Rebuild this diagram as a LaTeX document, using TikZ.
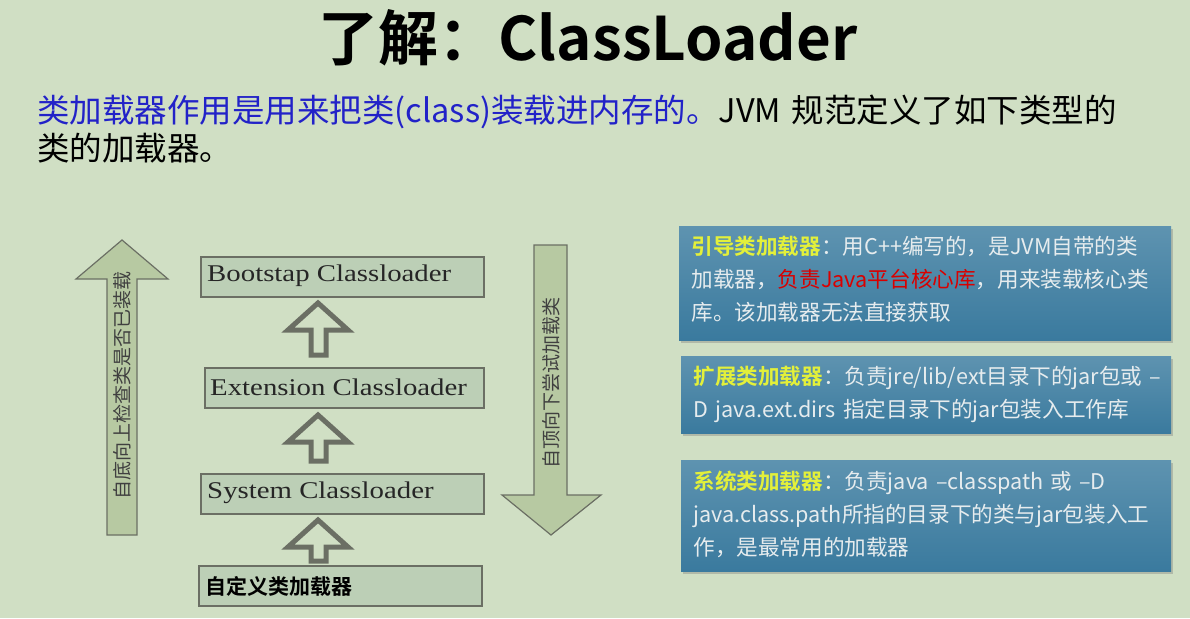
\documentclass[tikz,border=0pt]{standalone}
\usepackage{fontspec}
\setmainfont{Liberation Serif}
\newfontfamily\cjk{Noto Sans CJK SC}
\newfontfamily\cjkb{Noto Sans CJK SC Bold}
\XeTeXlinebreaklocale "zh"
\XeTeXlinebreakskip=0pt plus 1pt
\usetikzlibrary{shadows}
\definecolor{bg}{HTML}{D0DFC4}
\definecolor{lbox}{HTML}{BCCFB6}
\definecolor{bigar}{HTML}{B7C9A2}
\definecolor{dgray}{HTML}{6B6F64}
\definecolor{btop}{HTML}{5E93B0}
\definecolor{bbot}{HTML}{3A7A9E}
\definecolor{ytxt}{HTML}{E3F03A}
\definecolor{wtxt}{HTML}{E6ECEE}
\definecolor{ttl}{HTML}{2222C8}
\tikzset{
 lb/.style={draw=dgray,line width=1.5pt,fill=lbox,anchor=north west,inner sep=0pt},
 lt/.style={anchor=west,font=\fontsize{24}{24}\selectfont,text=black!85,xscale=1.2,inner sep=0pt},
 hol/.style={draw=dgray,line width=5pt,fill=bg,line join=miter},
 big/.style={draw=dgray,line width=1.2pt,fill=bigar},
 bb/.style={anchor=north west,inner sep=0pt,top color=btop,bottom color=bbot,drop shadow={shadow xshift=2pt,shadow yshift=-3pt,opacity=0.4}},
 bt/.style={anchor=north west,text width=480pt,align=left,text=wtxt,font=\cjk\fontsize{21.6}{33}\selectfont}
}
\begin{document}
\begin{tikzpicture}[x=1pt,y=-1pt]
\fill[bg] (0,0) rectangle (1190,618);
\useasboundingbox (0,0) rectangle (1190,618);
\node (title) at (588,38) {\cjkb\fontsize{60}{60}\selectfont 了解：ClassLoader};
\node[anchor=north west,text width=1140pt,align=left,inner sep=0pt,font=\cjk\fontsize{32.5}{38}\selectfont] (sub) at (37,95)
 {\textcolor{ttl}{类加载器作用是用来把类(class)装载进内存的。}JVM 规范定义了如下类型的\\类的加载器。};
% left boxes
\node[lb,minimum width=283pt,minimum height=40pt] (b1) at (200,256) {};
\node[lt] at (207,276) {Bootstap Classloader};
\node[lb,minimum width=279pt,minimum height=40pt] (b2) at (204,367) {};
\node[lt] at (210,387) {Extension Classloader};
\node[lb,minimum width=283pt,minimum height=40pt] (b3) at (200,473) {};
\node[lt] at (207,493) {System Classloader};
\node[lb,minimum width=283pt,minimum height=40pt] (b4) at (198,565) {};
\node[anchor=west,font=\cjkb\fontsize{21}{21}\selectfont,inner sep=0pt] at (205,586) {自定义类加载器};
% hollow arrows
\foreach \yt/\yb in {303/355, 415/461, 520/561}{
 \draw[hol] (311,\yb) -- (311,{\yt+27}) -- (288,{\yt+27}) -- (318,\yt) -- (348,{\yt+27}) -- (326,{\yt+27}) -- (326,\yb) -- cycle;
}
% big arrows
\draw[big] (107,535) -- (107,279) -- (76,279) -- (122,240) -- (168,279) -- (137,279) -- (137,535) -- cycle;
\node[rotate=90,font=\cjk\fontsize{19}{19}\selectfont,text=black!75] (lt) at (122,385) {自底向上检查类是否已装载};
\draw[big] (534,245) -- (567,245) -- (567,495) -- (601,495) -- (551,535) -- (502,495) -- (534,495) -- cycle;
\node[rotate=90,font=\cjk\fontsize{19}{19}\selectfont,text=black!75] (rt) at (551,383) {自顶向下尝试加载类};
% right boxes
\node[bb,minimum width=492pt,minimum height=114pt] (r1) at (679,226) {};
\node[bt] at (688,233) {{\cjkb\color{ytxt}引导类加载器}：用C++编写的，是JVM自带的类\\加载器，\textcolor{red!85!black}{负责Java平台核心库}，用来装载核心类\\库。该加载器无法直接获取};
\node[bb,minimum width=490pt,minimum height=77pt] (r2) at (681,356) {};
\node[bt] at (690,363) {{\cjkb\color{ytxt}扩展类加载器}：负责jre/lib/ext目录下的jar包或 –\\D java.ext.dirs 指定目录下的jar包装入工作库};
\node[bb,minimum width=490pt,minimum height=111pt] (r3) at (681,460) {};
\node[bt] at (690,467) {{\cjkb\color{ytxt}系统类加载器}：负责java –classpath 或 –D\\java.class.path所指的目录下的类与jar包装入工\\作，是最常用的加载器};
\end{tikzpicture}
\end{document}
